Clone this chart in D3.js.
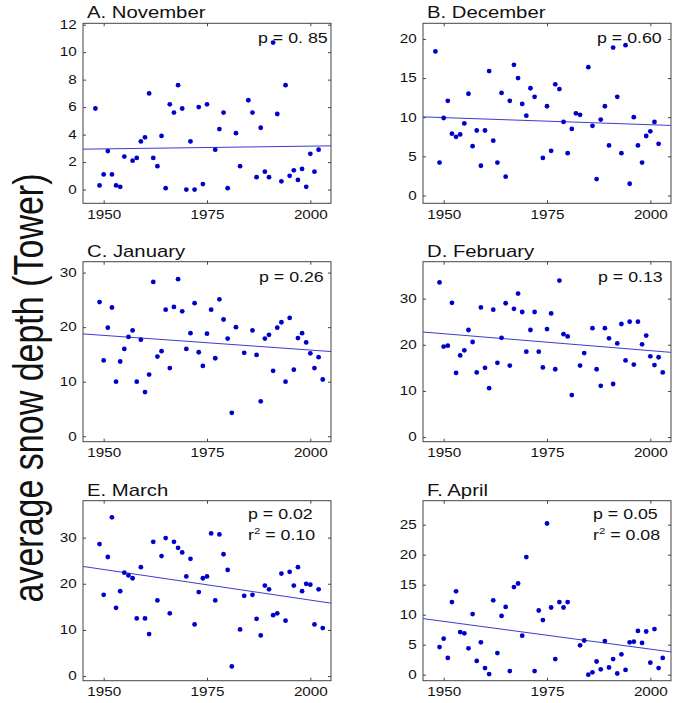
<!DOCTYPE html>
<html>
<head>
<meta charset="utf-8">
<script src="https://cdn.jsdelivr.net/npm/d3@7"></script>
<style>
  body { margin: 0; background: #fff; }
  text { font-family: "Liberation Sans", Arial, Helvetica, sans-serif; fill: #111; }
</style>
</head>
<body>
<script>
// panel labels and stats
const titles = ["A.  November", "B.  December", "C.  January", "D.  February", "E.  March", "F.  April"];
const pTexts = ["p = 0. 85", "p = 0.60", "p = 0.26", "p = 0.13", "p = 0.02", "p = 0.05"];
const r2Texts = [null, null, null, null, "0.10", "0.08"];
const yMax = [12.1, 22, 32, 38, 38, 29];
const yTicks = [[0, 2, 4, 6, 8, 10, 12], [0, 5, 10, 15, 20], [0, 10, 20, 30], [0, 10, 20, 30], [0, 10, 20, 30], [0, 5, 10, 15, 20, 25]];
const xTicks = [1950, 1975, 2000];
// fitted line values at 1945 and 2005
const trendStart = [2.94, 10.04, 18.76, 22.76, 23.76, 9.35];
const trendEnd = [3.18, 8.95, 15.53, 18.36, 15.8, 3.8];

const yearsNov = [1948,1949,1950,1951,1952,1953,1954,1955,1957,1958,1959,1960,1961,1962,1963,1964,1965,1966,1967,1968,1969,1970,1971,1972,1973,1974,1975,1977,1978,1979,1980,1982,1983,1985,1986,1987,1988,1989,1990,1991,1992,1993,1994,1995,1996,1997,1998,1999,2000,2001,2002];
const depthNov = [5.9,0.3,1.1,2.8,1.1,0.3,0.2,2.4,2.1,2.3,3.5,3.8,7.0,2.3,1.7,3.9,0.1,6.2,5.6,7.6,5.9,0.0,3.5,0.0,6.0,0.4,6.2,2.9,4.4,5.6,0.1,4.1,1.7,6.5,5.6,0.9,4.5,1.3,0.9,10.7,5.5,0.6,7.6,1.0,1.4,0.7,1.5,0.2,2.6,1.3,2.9];

const yearsDec = [1948,1949,1950,1951,1952,1953,1954,1955,1956,1957,1958,1959,1960,1961,1962,1963,1964,1965,1966,1967,1968,1969,1970,1971,1972,1974,1975,1976,1977,1978,1979,1980,1981,1982,1983,1985,1986,1987,1988,1989,1990,1991,1992,1993,1994,1995,1996,1997,1998,1999,2000,2001,2002];
const depthDec = [18.4,4.2,9.9,12.1,7.9,7.5,7.8,9.2,13.0,6.3,8.3,3.8,8.3,15.9,7.0,4.2,13.1,2.4,12.1,16.7,15.0,11.7,10.2,13.7,12.6,4.8,11.4,5.7,14.2,13.6,9.4,5.4,8.5,10.5,10.3,16.4,8.9,2.1,9.7,11.4,6.4,18.9,12.6,5.4,19.2,1.5,10.0,6.4,4.2,7.6,8.2,9.4,6.6];

const yearsJan = [1949,1950,1951,1952,1953,1954,1955,1956,1957,1958,1959,1960,1961,1962,1963,1964,1965,1966,1967,1968,1969,1970,1971,1972,1973,1974,1975,1976,1977,1978,1979,1980,1981,1982,1984,1986,1987,1988,1989,1990,1991,1992,1993,1994,1995,1996,1997,1998,1999,2000,2001,2002,2003];
const depthJan = [24.6,13.9,19.9,23.6,10.0,13.7,16.0,18.2,19.4,10.0,17.7,8.1,11.3,28.3,14.6,15.6,23.2,12.5,23.7,28.8,22.9,16.0,18.9,24.4,15.4,12.9,18.8,23.2,14.3,25.1,21.4,17.9,4.3,20.0,15.3,19.4,14.9,6.4,17.9,18.6,12.0,19.9,20.9,10.0,21.7,12.2,18.0,18.9,17.2,15.2,12.5,14.5,10.4];

const yearsFeb = [1949,1950,1951,1952,1953,1954,1955,1956,1957,1958,1959,1960,1961,1962,1963,1964,1965,1966,1967,1968,1969,1970,1971,1972,1973,1974,1975,1976,1977,1978,1979,1980,1981,1983,1984,1986,1987,1988,1989,1990,1991,1992,1993,1994,1995,1996,1997,1998,1999,2000,2001,2002,2003];
const depthFeb = [33.5,19.6,19.8,29.1,13.9,17.7,18.8,23.2,20.6,14.0,28.1,15.0,10.6,27.6,16.1,21.5,29.0,15.5,27.8,31.1,27.1,18.5,23.2,27.1,18.5,15.1,23.4,26.8,14.7,33.9,22.3,21.8,9.1,15.5,18.2,23.6,14.7,11.1,23.6,21.4,11.5,20.3,24.5,16.6,25.0,15.7,25.0,20.1,22.0,17.5,15.6,17.3,14.0];

const yearsMar = [1949,1950,1951,1952,1953,1954,1955,1956,1957,1958,1959,1960,1961,1962,1963,1964,1965,1966,1967,1968,1969,1970,1971,1972,1973,1974,1975,1976,1977,1978,1979,1980,1981,1983,1984,1986,1987,1988,1989,1990,1991,1992,1993,1994,1995,1996,1997,1998,1999,2000,2001,2002,2003];
const depthMar = [28.6,17.6,25.8,34.4,14.8,18.4,22.4,21.8,21.2,12.5,23.6,12.5,9.1,29.1,16.4,26.0,29.9,13.6,29.1,27.8,26.8,21.6,25.4,11.2,18.2,21.2,21.6,30.9,16.4,30.7,26.4,23.0,2.1,10.1,17.4,17.6,12.4,8.8,19.6,18.8,13.2,13.6,22.2,12.0,22.6,19.6,23.6,18.4,20.0,19.8,11.2,18.8,10.4];

const yearsApr = [1949,1950,1951,1952,1953,1954,1955,1956,1957,1958,1959,1960,1961,1962,1963,1964,1965,1966,1967,1968,1969,1970,1972,1973,1974,1975,1976,1977,1978,1979,1980,1983,1984,1985,1986,1987,1988,1989,1990,1991,1992,1993,1994,1995,1996,1997,1998,1999,2000,2001,2002,2003];
const depthApr = [4.6,6.0,2.8,12.1,13.9,7.1,6.9,4.4,10.1,2.3,5.4,1.1,0.1,12.4,3.6,9.8,11.3,0.6,14.6,15.2,6.5,19.6,0.6,10.7,9.1,25.2,11.2,2.6,12.1,11.2,12.1,4.9,5.7,0.0,0.4,2.2,0.9,5.6,1.2,2.6,0.2,3.4,0.8,5.4,5.5,7.3,5.3,7.2,2.0,7.6,1.1,2.8];

const allYears = [yearsNov, yearsDec, yearsJan, yearsFeb, yearsMar, yearsApr];
const allDepths = [depthNov, depthDec, depthJan, depthFeb, depthMar, depthApr];

const width = 673, height = 703;
const colLeft = [83, 423];
const rowTop = [23.3, 261.7, 500.7];
const pw = 248, ph = 180;
const SX = 1.27; // the figure text is stretched sideways
const axisColor = "#444";
const dotColor = "#0000cc";
const lineColor = "#3c3cd0";
const pLeft = [175, 174, 176, 175, 165, 170];

const svg = d3.select("body").append("svg")
    .attr("width", width)
    .attr("height", height);

// big y label
svg.append("text")
    .attr("transform", "translate(43,388) scale(" + SX + ",1) rotate(-90)")
    .attr("text-anchor", "middle")
    .style("font-size", "34px")
    .text("average snow depth (Tower)");

titles.forEach(function (title, i) {
    const g = svg.append("g")
        .attr("transform", "translate(" + colLeft[i % 2] + "," + rowTop[Math.floor(i / 2)] + ")");

    const x = d3.scaleLinear().domain([1945, 2005]).range([0, pw]);
    const y = d3.scaleLinear().domain([-1, yMax[i]]).range([ph, 0]);

    // axes, ticks pointing inward
    const left = g.append("g").call(d3.axisLeft(y).tickValues(yTicks[i]).tickSizeInner(-3).tickSizeOuter(0).tickPadding(6));
    const right = g.append("g").attr("transform", "translate(" + pw + ",0)")
        .call(d3.axisRight(y).tickValues(yTicks[i]).tickSizeInner(-3).tickSizeOuter(0).tickFormat(""));
    const bottom = g.append("g").attr("transform", "translate(0," + ph + ")")
        .call(d3.axisBottom(x).tickValues(xTicks).tickSizeInner(-3).tickSizeOuter(0).tickPadding(7).tickFormat(d3.format("d")));
    const top = g.append("g")
        .call(d3.axisTop(x).tickValues(xTicks).tickSizeInner(-3).tickSizeOuter(0).tickFormat(""));

    [left, right, bottom, top].forEach(function (a) {
        a.select(".domain").remove();
        a.selectAll("line").attr("stroke", axisColor);
        a.selectAll("text")
            .style("font-size", "12px")
            .attr("fill", "#111")
            .style("font-family", "'Liberation Sans', Arial, sans-serif");
    });
    left.selectAll("text").attr("x", -6.3 / SX).attr("transform", "scale(" + SX + ",1)");
    bottom.selectAll("text").attr("transform", "scale(" + SX + ",1)");

    g.append("rect")
        .attr("width", pw)
        .attr("height", ph)
        .attr("fill", "none")
        .attr("stroke", axisColor)
        .attr("stroke-width", 1);

    // trend line
    g.append("line")
        .attr("x1", x(1945)).attr("y1", y(trendStart[i]))
        .attr("x2", x(2005)).attr("y2", y(trendEnd[i]))
        .attr("stroke", lineColor)
        .attr("stroke-width", 1);

    // points
    const pts = allYears[i].map(function (yr, k) { return { year: yr, depth: allDepths[i][k] }; });
    g.selectAll("circle")
        .data(pts)
        .enter().append("circle")
        .attr("cx", function (d) { return x(d.year); })
        .attr("cy", function (d) { return y(d.depth); })
        .attr("r", 2.4)
        .attr("fill", dotColor);

    // title
    g.append("text")
        .attr("transform", "translate(4,-5) scale(" + SX + ",1)")
        .style("font-size", "16px")
        .text(title);

    // p value
    const pBase = r2Texts[i] ? 18.5 : 20;
    g.append("text")
        .attr("transform", "translate(" + pLeft[i] + "," + pBase + ") scale(" + SX + ",1)")
        .style("font-size", "14px")
        .text(pTexts[i]);

    if (r2Texts[i]) {
        const t = g.append("text")
            .attr("transform", "translate(" + pLeft[i] + ",39.5) scale(" + SX + ",1)")
            .style("font-size", "14px");
        t.append("tspan").text("r");
        t.append("tspan").attr("dy", -6).style("font-size", "9px").text("2");
        t.append("tspan").attr("dy", 6).text(" = " + r2Texts[i]);
    }
});
</script>
</body>
</html>
